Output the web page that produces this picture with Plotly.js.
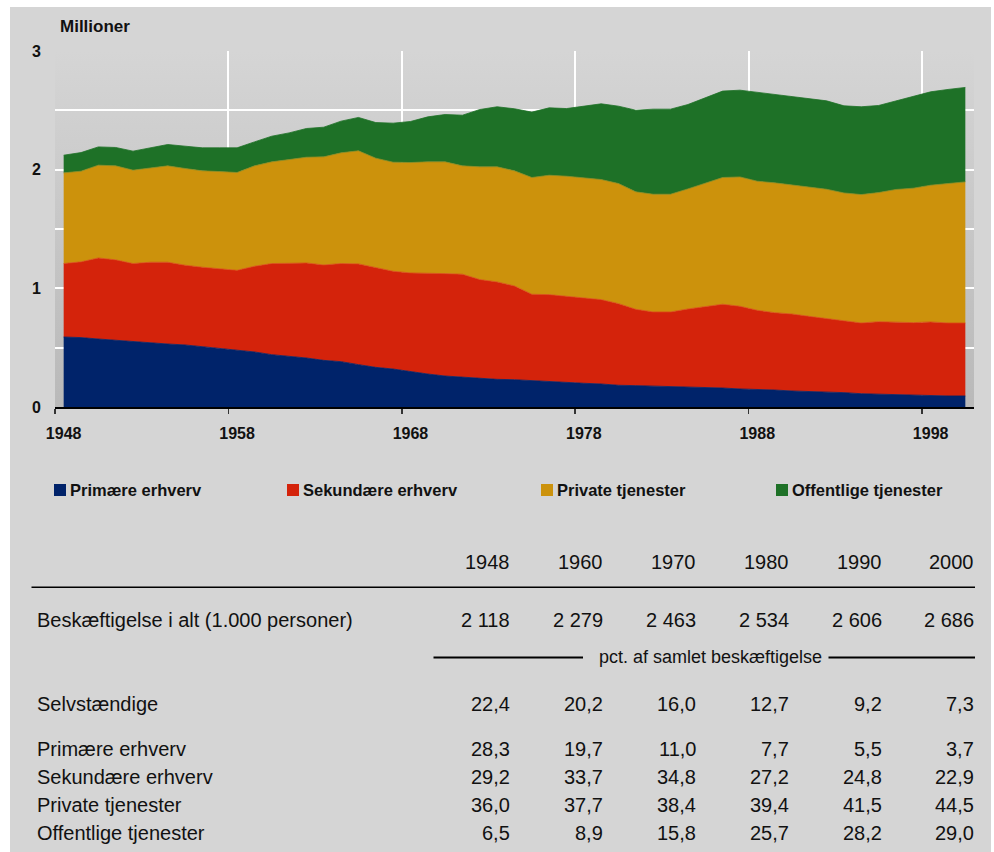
<!DOCTYPE html>
<html><head><meta charset="utf-8">
<script src="https://cdn.plot.ly/plotly-3.0.1.min.js"></script>
<style>
html,body{margin:0;padding:0;background:#fff;}
#chart{position:absolute;left:10px;top:7px;width:981px;height:845px;}
</style></head><body><div id="chart"></div>
<script>
// ---------- data ----------
const years = ['1948','1949','1950','1951','1952','1953','1954','1955','1956','1957',
  '1958','1959','1960','1961','1962','1963','1964','1965','1966','1967',
  '1968','1969','1970','1971','1972','1973','1974','1975','1976','1977',
  '1978','1979','1980','1981','1982','1983','1984','1985','1986','1987',
  '1988','1989','1990','1991','1992','1993','1994','1995','1996','1997',
  '1998','1999','2000'];
const seriesNames = ['Primære erhverv','Sekundære erhverv','Private tjenester','Offentlige tjenester'];
// employment, millions
const primaer = [0.590,0.585,0.573,0.562,0.548,0.542,0.531,0.523,0.509,0.492,
  0.475,0.464,0.441,0.430,0.413,0.393,0.382,0.357,0.334,0.320,
  0.298,0.278,0.261,0.250,0.239,0.233,0.230,0.222,0.211,0.205,
  0.200,0.194,0.183,0.180,0.177,0.174,0.171,0.166,0.160,0.152,
  0.149,0.143,0.135,0.132,0.126,0.121,0.112,0.107,0.107,0.101,
  0.096,0.093,0.093];
const sekundaer = [0.619,0.638,0.683,0.678,0.661,0.678,0.689,0.672,0.669,0.674,
  0.677,0.722,0.768,0.781,0.801,0.804,0.827,0.849,0.844,0.824,
  0.832,0.846,0.863,0.869,0.835,0.821,0.790,0.728,0.736,0.728,
  0.719,0.711,0.688,0.643,0.624,0.627,0.655,0.677,0.706,0.697,
  0.666,0.652,0.649,0.632,0.619,0.601,0.596,0.612,0.610,0.610,
  0.621,0.615,0.615];
const privat = [0.764,0.764,0.782,0.792,0.787,0.795,0.812,0.815,0.812,0.818,
  0.824,0.846,0.857,0.874,0.891,0.911,0.933,0.953,0.919,0.919,
  0.930,0.942,0.942,0.913,0.950,0.970,0.970,0.984,1.006,1.012,
  1.015,1.012,1.012,0.990,0.992,0.992,1.012,1.040,1.068,1.090,
  1.088,1.094,1.085,1.091,1.090,1.082,1.082,1.088,1.116,1.133,
  1.152,1.175,1.189];
const offentlig = [0.149,0.157,0.154,0.155,0.160,0.169,0.180,0.188,0.194,0.200,
  0.208,0.202,0.216,0.225,0.242,0.250,0.267,0.281,0.300,0.329,
  0.346,0.379,0.399,0.427,0.483,0.506,0.523,0.551,0.568,0.570,
  0.604,0.638,0.652,0.688,0.717,0.717,0.711,0.722,0.728,0.731,
  0.750,0.747,0.748,0.745,0.745,0.734,0.740,0.734,0.747,0.773,
  0.787,0.793,0.796];

// table
const tableYears = ['1948','1960','1970','1980','1990','2000'];
const totalLabel = 'Beskæftigelse i alt (1.000 personer)';
const totals = [2118, 2279, 2463, 2534, 2606, 2686];
const pctLabel = 'pct. af samlet beskæftigelse';
const selvLabel = 'Selvstændige';
const selvPct = [22.4, 20.2, 16.0, 12.7, 9.2, 7.3];
const primaerPct = [28.3, 19.7, 11.0, 7.7, 5.5, 3.7];
const sekundaerPct = [29.2, 33.7, 34.8, 27.2, 24.8, 22.9];
const privatPct = [36.0, 37.7, 38.4, 39.4, 41.5, 44.5];
const offentligPct = [6.5, 8.9, 15.8, 25.7, 28.2, 29.0];

// ---------- styling / layout ----------
const colors = ['#00236a', '#d4230b', '#cc920c', '#1e7127'];
const lineColors = ['#00236a', '#dc4a14', '#8f8a1c', '#1e7127'];
const FONT = 'Liberation Sans, Arial, Helvetica, sans-serif';
const W = 981, H = 845, OX = 10, OY = 7;
const M = {l: 45, r: 17, t: 44, b: 445};
const PW = W - M.l - M.r, PH = H - M.t - M.b;
function px(ax) { return (ax - OX - M.l) / PW; }
function py(ay) { return 1 - (ay - OY - M.t) / PH; }

const seriesVals = [primaer, sekundaer, privat, offentlig];
const traces = seriesVals.map((v, k) => ({
  type: 'scatter', mode: 'lines', x: years, y: v, name: seriesNames[k],
  stackgroup: 'one', fillcolor: colors[k],
  line: {color: lineColors[k], width: 0.8, shape: 'linear'},
  hoverinfo: 'x+y+name', showlegend: false
}));

const annotations = [];
const shapes = [];

annotations.push({xref: 'paper', yref: 'paper', x: px(58), y: py(26), xanchor: 'left', yanchor: 'middle',
  text: 'Millioner', showarrow: false, font: {family: FONT, size: 17, color: '#111', weight: 'bold'}});

// legend
const legSq = [54, 287, 541, 776];
seriesNames.forEach((n, k) => {
  shapes.push({type: 'rect', xref: 'paper', yref: 'paper', x0: px(legSq[k]), x1: px(legSq[k] + 12),
    y0: py(496), y1: py(484), fillcolor: colors[k], line: {width: 0}});
  annotations.push({xref: 'paper', yref: 'paper', x: px(legSq[k] + 14), y: py(490), xanchor: 'left', yanchor: 'middle',
    text: n, showarrow: false, font: {family: FONT, size: 16.5, color: '#111', weight: 'bold'}});
});

// table
const colRight = [511, 604, 697, 790, 883, 975];
const TF = {family: FONT, size: 20, color: '#111'};
function fmtInt(v) { return String(v).replace(/\B(?=(\d{3})+(?!\d))/g, ' '); }
function fmtPct(v) { return v.toFixed(1).replace('.', ','); }
function rowText(label, vals, fmt, ay) {
  if (label) annotations.push({xref: 'paper', yref: 'paper', x: px(35), y: py(ay), xanchor: 'left', yanchor: 'middle',
    text: label, showarrow: false, font: TF});
  vals.forEach((v, i) => annotations.push({xref: 'paper', yref: 'paper', x: px(colRight[i] + 1), y: py(ay),
    xanchor: 'right', yanchor: 'middle', text: fmt(v), showarrow: false, font: TF}));
}
rowText(null, tableYears, s => s, 562);
rowText(totalLabel, totals, fmtInt, 620);
rowText(selvLabel, selvPct, fmtPct, 704);
rowText(seriesNames[0], primaerPct, fmtPct, 749);
rowText(seriesNames[1], sekundaerPct, fmtPct, 777);
rowText(seriesNames[2], privatPct, fmtPct, 805);
rowText(seriesNames[3], offentligPct, fmtPct, 833);
annotations.push({xref: 'paper', yref: 'paper', x: px(710), y: py(657), xanchor: 'center', yanchor: 'middle',
  text: pctLabel, showarrow: false, font: {family: FONT, size: 18, color: '#111'}});

shapes.push({type: 'line', xref: 'paper', yref: 'paper', x0: px(31.5), x1: px(975), y0: py(587.3), y1: py(587.3),
  line: {color: '#000', width: 1.5}});
shapes.push({type: 'line', xref: 'paper', yref: 'paper', x0: px(433.5), x1: px(583), y0: py(657.5), y1: py(657.5),
  line: {color: '#000', width: 2}});
shapes.push({type: 'line', xref: 'paper', yref: 'paper', x0: px(828.5), x1: px(975), y0: py(657.5), y1: py(657.5),
  line: {color: '#000', width: 2}});

const grad = 'data:image/svg+xml;charset=utf-8,' + encodeURIComponent(
  '<svg xmlns="http://www.w3.org/2000/svg" width="10" height="100" viewBox="0 0 10 100" preserveAspectRatio="none">' +
  '<defs><linearGradient id="g" x1="0" y1="0" x2="0" y2="1"><stop offset="0" stop-color="#d5d5d5"/>' +
  '<stop offset="1" stop-color="#b9b9b9"/></linearGradient></defs><rect width="10" height="100" fill="url(#g)"/></svg>');

const layout = {
  width: W, height: H,
  margin: M,
  paper_bgcolor: '#d5d5d5', plot_bgcolor: 'rgba(0,0,0,0)',
  font: {family: FONT, color: '#111'},
  showlegend: false,
  images: [{source: grad, xref: 'paper', yref: 'paper', x: 0, y: 1, sizex: 1, sizey: 1,
    sizing: 'stretch', xanchor: 'left', yanchor: 'top', layer: 'below'}],
  xaxis: {
    type: 'category', range: [-0.5, 52.5], tickson: 'boundaries', tickmode: 'linear', tick0: 0, dtick: 10,
    tickangle: 0,
    ticks: 'outside', ticklen: 5, tickwidth: 1.5, tickcolor: '#333',
    showline: true, linecolor: '#000', linewidth: 1.5,
    showgrid: true, gridcolor: '#ffffff', gridwidth: 2,
    tickfont: {family: FONT, size: 16, color: '#111', weight: 'bold'}, ticklabelstandoff: 11,
    fixedrange: true
  },
  yaxis: {
    range: [0, 3], tickmode: 'linear', tick0: 0, dtick: 1,
    ticks: '', showline: false, zeroline: false,
    showgrid: true, gridcolor: '#ffffff', gridwidth: 2,
    minor: {dtick: 0.5, showgrid: true, gridcolor: '#ffffff', gridwidth: 2},
    tickfont: {family: FONT, size: 16, color: '#111', weight: 'bold'}, ticklabelstandoff: 13,
    fixedrange: true
  },
  annotations: annotations,
  shapes: shapes
};
Plotly.newPlot('chart', traces, layout, {displayModeBar: false, staticPlot: true});
</script></body></html>
